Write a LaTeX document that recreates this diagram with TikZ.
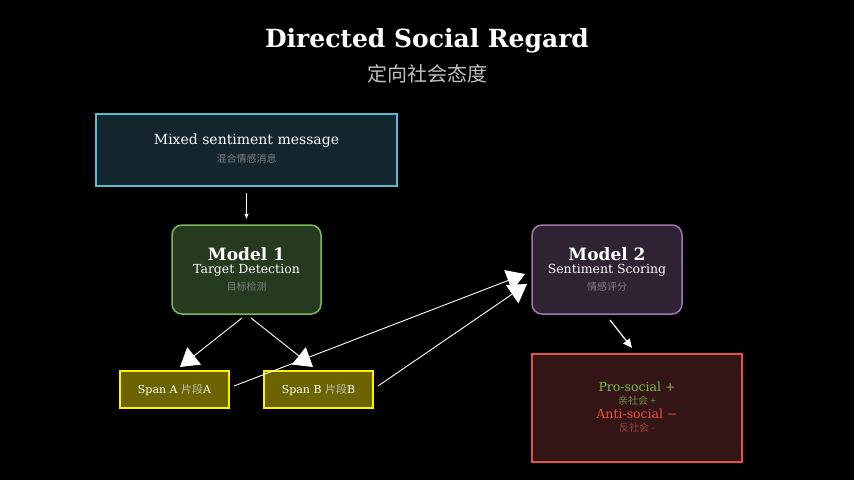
\documentclass[tikz,border=0pt]{standalone}
\usepackage{fontspec}
\setmainfont{DejaVu Serif}
\newfontfamily\cjk{Noto Sans CJK SC}
\usetikzlibrary{arrows.meta}
\begin{document}
\begin{tikzpicture}[x=1pt,y=-1pt,
  box/.style={draw,line width=1.5pt,align=center,inner sep=0pt},
  cn/.style={font=\cjk\fontsize{10}{12}\selectfont,text=gray},
  big/.style={draw=white,line width=0.9pt,-{Triangle[length=18pt,width=22pt,fill=white]}},
  small/.style={draw=white,line width=0.9pt,-{Triangle[length=5pt,width=4pt,fill=white]}}]
\fill[black] (0,0) rectangle (854,480);
\useasboundingbox (0,0) rectangle (854,480);
\node (t) at (427,41) {\fontsize{25}{28}\selectfont\bfseries\color{white}Directed Social Regard};
\node (ts) at (427,74) {\cjk\fontsize{20}{22}\selectfont\color{lightgray}定向社会态度};
\node[box,draw={rgb,255:red,90;green,190;blue,210},fill={rgb,255:red,19;green,38;blue,45},minimum width=301pt,minimum height=72pt] (m) at (246.5,150) {};
\node at (246.5,141) {\fontsize{14}{16}\selectfont\color{white}Mixed sentiment message};
\node[cn] at (246.5,159) {混合情感消息};
\node[box,rounded corners=10pt,draw={rgb,255:red,122;green,184;blue,90},fill={rgb,255:red,38;green,58;blue,32},minimum width=149pt,minimum height=89pt] (m1) at (246.5,269.5) {};
\node at (246.5,254) {\fontsize{17}{19}\selectfont\bfseries\color{white}Model 1};
\node at (246.5,270) {\fontsize{12.5}{14}\selectfont\color{white}Target Detection};
\node[cn] at (246.5,287) {目标检测};
\node[box,rounded corners=10pt,draw={rgb,255:red,157;green,120;blue,176},fill={rgb,255:red,46;green,34;blue,51},minimum width=150pt,minimum height=89pt] (m2) at (607,269.5) {};
\node at (607,254) {\fontsize{17}{19}\selectfont\bfseries\color{white}Model 2};
\node at (607,270) {\fontsize{12.5}{14}\selectfont\color{white}Sentiment Scoring};
\node[cn] at (607,287) {情感评分};
\node[box,draw=yellow,fill={rgb,255:red,107;green,100;blue,0},minimum width=109pt,minimum height=37pt,font=\fontsize{11}{13}\selectfont,text=white] (a) at (174.5,389.5) {Span A {\cjk\color{lightgray}片段}A};
\node[box,draw=yellow,fill={rgb,255:red,107;green,100;blue,0},minimum width=109pt,minimum height=37pt,font=\fontsize{11}{13}\selectfont,text=white] (b) at (318.5,389.5) {Span B {\cjk\color{lightgray}片段}B};
\node[box,draw={rgb,255:red,224;green,85;blue,69},fill={rgb,255:red,52;green,21;blue,21},minimum width=210pt,minimum height=108pt] (r) at (637,408) {};
\node at (637,387) {\fontsize{12.5}{14}\selectfont\color[RGB]{120,190,80}Pro-social +};
\node[cn,text={rgb,255:red,110;green,140;blue,70}] at (637,401) {亲社会 +};
\node at (637,414) {\fontsize{12.5}{14}\selectfont\color[RGB]{240,80,70}Anti-social \textminus};
\node[cn,text={rgb,255:red,160;green,70;blue,60}] at (637,428) {反社会 -};
\coordinate (m1a) at (242,318); \coordinate (m1b) at (251,318);
\draw[small] (m.south) ++(0,6) -- ++(0,26);
\draw[big] (m1a) -- (180,367);
\draw[big] (m1b) -- (313,367);
\draw[big] (234,386) -- (525,274);
\draw[big] (378,386) -- (527,284);
\draw[draw=white,line width=1.2pt,-{Triangle[length=9pt,width=8pt,fill=white]}] (610,320) -- (632,348);
\end{tikzpicture}
\end{document}
